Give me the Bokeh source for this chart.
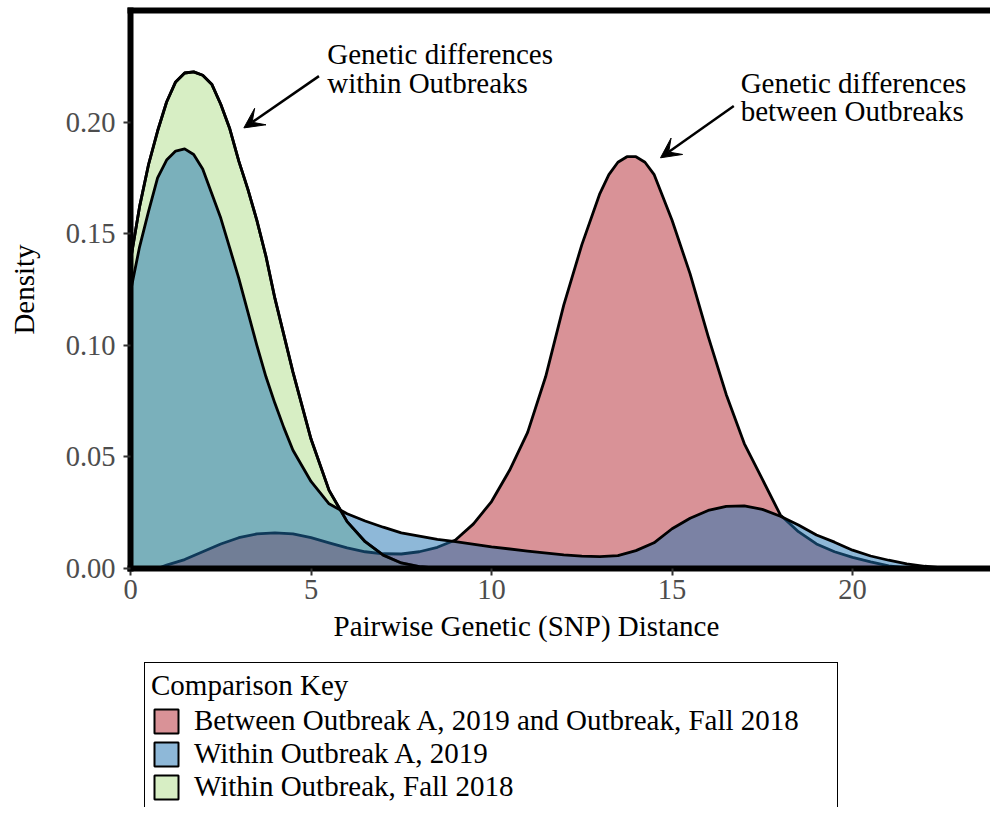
from bokeh.plotting import figure
from bokeh.layouts import column
from bokeh.models import (Range1d, LinearAxis, FixedTicker, NumeralTickFormatter,
                          Legend, LegendItem, Title, Arrow, VeeHead)
from bokeh.core.properties import value
from bokeh.embed import file_html
from bokeh.resources import INLINE

FONT = "Liberation Serif"

# ---------------- data ----------------
series_labels = [
    "Between Outbreak A, 2019 and Outbreak, Fall 2018",
    "Within Outbreak A, 2019",
    "Within Outbreak, Fall 2018",
]
fill_colors = ["#B3252F", "#1D71B1", "#AFDD89"]

between_x = [0.75, 1.0, 1.5, 2.0, 2.5, 3.0, 3.5, 4.0, 4.5, 5.0, 5.5, 6.0, 6.5, 7.0, 7.5,
             8.0, 8.5, 9.0, 9.5, 10.0, 10.5, 11.0, 11.5, 12.0, 12.5, 13.0, 13.25, 13.5,
             13.75, 14.0, 14.25, 14.5, 15.0, 15.5, 16.0, 16.5, 17.0, 17.5, 18.0, 18.5,
             19.0, 19.5, 20.0, 20.5, 21.0, 21.5, 22.0]
between_d = [0.0, 0.0015, 0.004, 0.0075, 0.011, 0.0138, 0.0155, 0.016, 0.0155, 0.0138,
             0.0115, 0.0092, 0.0075, 0.0066, 0.0065, 0.0075, 0.0095, 0.0128, 0.020, 0.030,
             0.044, 0.061, 0.086, 0.118, 0.145, 0.168, 0.1765, 0.182, 0.1845, 0.1845,
             0.182, 0.1766, 0.156, 0.132, 0.104, 0.078, 0.056, 0.040, 0.024, 0.0165,
             0.011, 0.0075, 0.005, 0.003, 0.0012, 0.0003, 0.0]

withinA_x = [0.0, 0.25, 0.5, 0.75, 1.0, 1.25, 1.5, 1.75, 2.0, 2.25, 2.5, 2.75, 3.0, 3.25,
             3.5, 3.75, 4.0, 4.25, 4.5, 5.0, 5.5, 6.0, 6.5, 7.0, 7.5, 8.0, 8.5, 9.0, 10.0,
             11.0, 12.0, 12.5, 13.0, 13.5, 14.0, 14.5, 15.0, 15.5, 16.0, 16.5, 17.0, 17.5,
             18.0, 18.5, 19.0, 19.5, 20.0, 20.5, 21.0, 21.5, 22.0, 22.5, 23.0]
withinA_d = [0.124, 0.144, 0.160, 0.175, 0.183, 0.187, 0.188, 0.1855, 0.179, 0.168, 0.157,
             0.1435, 0.130, 0.115, 0.100, 0.086, 0.074, 0.063, 0.053, 0.039, 0.029, 0.0245,
             0.0213, 0.0185, 0.016, 0.0145, 0.013, 0.012, 0.0097, 0.0078, 0.0061, 0.0055,
             0.0053, 0.0058, 0.008, 0.0115, 0.0178, 0.0225, 0.026, 0.0278, 0.0281, 0.0265,
             0.0234, 0.0195, 0.015, 0.0118, 0.0082, 0.0056, 0.0037, 0.0021, 0.001, 0.0003,
             0.0]

withinF_x = [0.0, 0.25, 0.5, 0.75, 1.0, 1.25, 1.5, 1.75, 2.0, 2.25, 2.5, 2.75, 3.0, 3.25,
             3.5, 3.75, 4.0, 4.5, 5.0, 5.5, 6.0, 6.5, 7.0, 7.5, 8.0, 8.5, 9.0]
withinF_d = [0.138, 0.162, 0.181, 0.196, 0.209, 0.218, 0.222, 0.2225, 0.221, 0.217, 0.208,
             0.197, 0.1825, 0.170, 0.156, 0.140, 0.121, 0.088, 0.058, 0.035, 0.021, 0.012,
             0.006, 0.0025, 0.0008, 0.0002, 0.0]

x_ticks = [0, 5, 10, 15, 20]
y_ticks = [0.0, 0.05, 0.10, 0.15, 0.20]

annot_lines = ["Genetic differences", "within Outbreaks",
               "Genetic differences", "between Outbreaks"]
annot_x = [5.45, 5.45, 16.9, 16.9]
annot_y = [0.2303, 0.2176, 0.2176, 0.2049]

arrow_x_start = [5.22, 16.71]
arrow_y_start = [0.2206, 0.2072]
arrow_x_end = [3.14, 14.68]
arrow_y_end = [0.1974, 0.184]

# ---------------- main figure ----------------
p = figure(frame_width=860, frame_height=558,
           x_range=Range1d(0, 23.82), y_range=Range1d(0, 0.25),
           output_backend="svg", toolbar_location=None,
           min_border_left=130, min_border_right=0, min_border_top=10,
           min_border_bottom=80)
p.xgrid.visible = False
p.ygrid.visible = False
p.outline_line_color = None
p.background_fill_color = "white"
p.border_fill_color = "white"

for ax in (p.xaxis[0], p.yaxis[0]):
    ax.axis_line_width = 6
    ax.axis_line_color = "black"
    ax.axis_line_cap = "square"
    ax.major_tick_out = 7
    ax.major_tick_in = 0
    ax.major_tick_line_width = 2
    ax.major_tick_line_color = "#333333"
    ax.minor_tick_out = 0
    ax.minor_tick_in = 0
    ax.major_label_text_font = FONT
    ax.major_label_text_font_size = "28.5px"
    ax.major_label_text_color = "#4d4d4d"

p.xaxis[0].ticker = FixedTicker(ticks=x_ticks)
p.xaxis[0].major_label_standoff = 4
p.yaxis[0].ticker = FixedTicker(ticks=y_ticks)
p.yaxis[0].formatter = NumeralTickFormatter(format="0.00")
p.yaxis[0].major_label_standoff = 8
p.yaxis[0].axis_label = "Density"
p.yaxis[0].axis_label_text_font = FONT
p.yaxis[0].axis_label_text_font_size = "29px"
p.yaxis[0].axis_label_text_font_style = "normal"
p.yaxis[0].axis_label_text_color = "black"
p.yaxis[0].axis_label_standoff = 23

top = LinearAxis(ticker=FixedTicker(ticks=[]), axis_line_width=6, axis_line_color="black",
                 axis_line_cap="square",
                 major_tick_out=0, major_tick_in=0, minor_tick_out=0, minor_tick_in=0,
                 major_label_text_font_size="0px", major_label_standoff=0)
p.add_layout(top, "above")

xt = Title(text="Pairwise Genetic (SNP) Distance", align="left", offset=203,
           text_font=FONT, text_font_size="29px", text_font_style="normal",
           text_color="black", standoff=13)
p.add_layout(xt, "below")

def closed(xs, ds):
    return xs + [xs[-1], xs[0]], ds + [0.0, 0.0]

bx, by = closed(between_x, between_d)
ax_, ay = closed(withinA_x, withinA_d)
fx, fy = closed(withinF_x, withinF_d)

style = dict(fill_alpha=0.5, line_color="black", line_width=2.8, line_join="round")
p.patch(fx, fy, fill_color=fill_colors[2], **style)
p.patch(bx, by, fill_color=fill_colors[0], **style)
p.patch(ax_, ay, fill_color=fill_colors[1], **style)
p.line(withinF_x, withinF_d, line_color="black", line_width=2.8, line_join="round")

p.text(x=annot_x, y=annot_y, text=annot_lines, text_font=value(FONT),
       text_font_size="29px", text_baseline="alphabetic", text_align="left",
       text_color="black")

for xs, ys, xe, ye in zip(arrow_x_start, arrow_y_start, arrow_x_end, arrow_y_end):
    p.add_layout(Arrow(end=VeeHead(size=20, fill_color="black", line_color="black",
                                   line_width=1),
                       x_start=xs, y_start=ys, x_end=xe, y_end=ye,
                       line_width=2.5, line_color="black"))

# ---------------- legend strip (same series, drawn outside its visible range) ----------------
k = figure(width=990, height=159, x_range=Range1d(-3, -2), y_range=Range1d(-3, -2),
           x_axis_type=None, y_axis_type=None,
           output_backend="svg", toolbar_location=None,
           min_border_left=0, min_border_right=0, min_border_top=0,
           min_border_bottom=0)
k.outline_line_color = None
k.background_fill_color = "white"
k.border_fill_color = "white"
k_style = dict(fill_alpha=0.5, line_color="black", line_width=2.0)
kr = [k.patch(xs, ys, fill_color=c, **k_style)
      for (xs, ys), c in zip([(bx, by), (ax_, ay), (fx, fy)], fill_colors)]

legend = Legend(
    items=[LegendItem(label=lab, renderers=[r]) for lab, r in zip(series_labels, kr)],
    title="Comparison Key", location="top_left", orientation="vertical",
    margin=14, padding=6, spacing=0,
    glyph_width=30, glyph_height=30, label_height=30, label_width=637,
    label_standoff=13, title_standoff=2,
    title_text_font=FONT, title_text_font_size="29px", title_text_font_style="normal",
    title_text_color="black",
    label_text_font=FONT, label_text_font_size="29px", label_text_color="black",
    border_line_color="black", border_line_width=1.5, border_line_alpha=1,
    background_fill_color="white", background_fill_alpha=1,
)
k.add_layout(legend, "center")

open("out.html", "w").write(file_html(column(p, k, spacing=0), INLINE))
